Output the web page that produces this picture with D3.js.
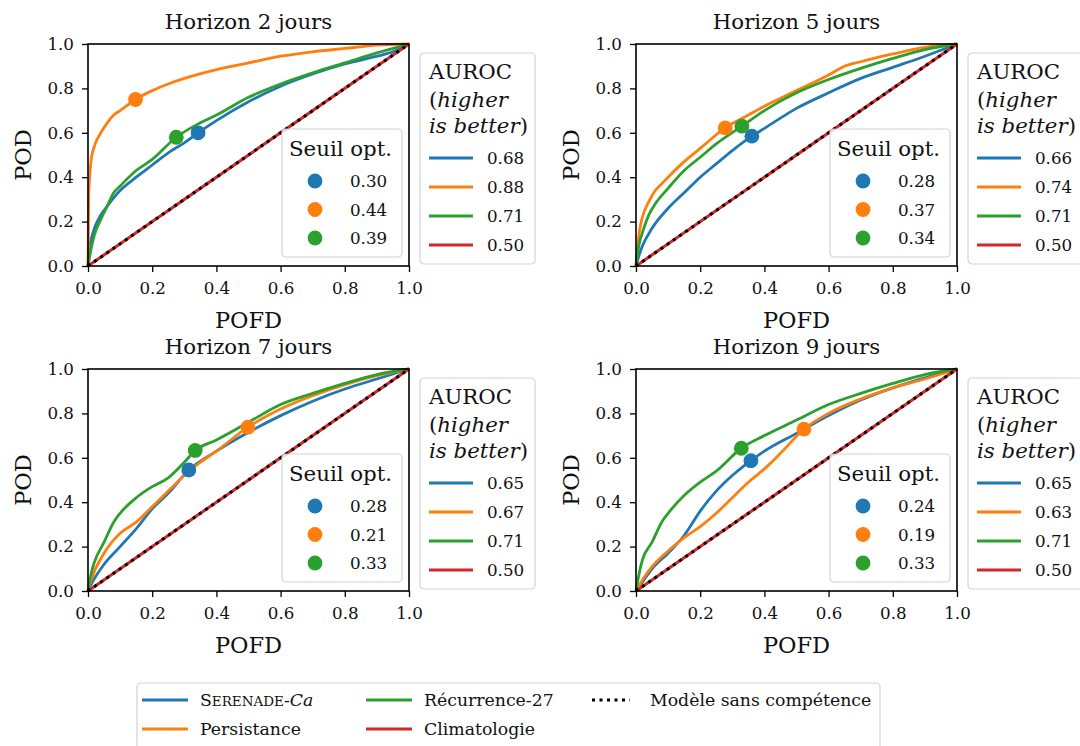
<!DOCTYPE html>
<html>
<head>
<meta charset="utf-8">
<script src="https://cdn.jsdelivr.net/npm/d3@7"></script>
<style>
  html, body { margin: 0; padding: 0; background: #fff; }
  svg { display: block; }
  text { font-family: "DejaVu Serif", "Liberation Serif", serif; fill: #111; }
</style>
</head>
<body>
<svg id="chart" width="1080" height="746"></svg>
<script>
// ---------------- DATA ----------------
const seriesNames = ["SERENADE-Ca", "Persistance", "Récurrence-27", "Climatologie"];
const colors = ["#1f77b4", "#ff7f0e", "#2ca02c", "#d62728"];
const titles = ["Horizon 2 jours", "Horizon 5 jours", "Horizon 7 jours", "Horizon 9 jours"];
const ticks = [0.0, 0.2, 0.4, 0.6, 0.8, 1.0];

// ROC curves: [POFD, POD]
const h2Serenade = [[0,0],[0.005,0.08],[0.01,0.12],[0.02,0.17],[0.04,0.23],[0.06,0.27],[0.1,0.34],[0.15,0.40],[0.2,0.455],[0.25,0.51],[0.3,0.555],[0.343,0.60],[0.4,0.655],[0.5,0.74],[0.6,0.81],[0.7,0.865],[0.8,0.91],[0.9,0.945],[0.95,0.965],[1,1]];
const h2Persistance = [[0,0],[0.002,0.30],[0.005,0.40],[0.01,0.48],[0.02,0.54],[0.04,0.60],[0.06,0.645],[0.08,0.68],[0.1,0.70],[0.148,0.75],[0.2,0.79],[0.25,0.82],[0.3,0.845],[0.4,0.885],[0.5,0.915],[0.6,0.945],[0.7,0.965],[0.8,0.98],[0.9,0.995],[1,1]];
const h2Recurrence = [[0,0],[0.01,0.08],[0.02,0.14],[0.04,0.21],[0.06,0.27],[0.08,0.33],[0.1,0.36],[0.15,0.43],[0.2,0.48],[0.275,0.58],[0.35,0.645],[0.4,0.68],[0.5,0.76],[0.6,0.82],[0.7,0.87],[0.8,0.915],[0.9,0.96],[1,1]];

const h5Serenade = [[0,0],[0.01,0.05],[0.02,0.09],[0.05,0.17],[0.1,0.26],[0.15,0.33],[0.2,0.40],[0.25,0.46],[0.3,0.52],[0.361,0.585],[0.4,0.62],[0.5,0.71],[0.6,0.78],[0.7,0.845],[0.8,0.895],[0.9,0.945],[1,1]];
const h5Persistance = [[0,0],[0.01,0.15],[0.02,0.22],[0.04,0.29],[0.06,0.34],[0.08,0.37],[0.1,0.40],[0.15,0.47],[0.2,0.53],[0.278,0.622],[0.35,0.68],[0.4,0.72],[0.5,0.79],[0.6,0.86],[0.65,0.90],[0.7,0.92],[0.8,0.955],[0.9,0.985],[1,1]];
const h5Recurrence = [[0,0],[0.01,0.10],[0.02,0.15],[0.04,0.23],[0.06,0.28],[0.1,0.35],[0.15,0.43],[0.2,0.49],[0.25,0.55],[0.33,0.63],[0.4,0.70],[0.5,0.78],[0.6,0.84],[0.7,0.89],[0.8,0.935],[0.9,0.975],[1,1]];

const h7Serenade = [[0,0],[0.01,0.03],[0.05,0.12],[0.1,0.20],[0.15,0.28],[0.2,0.37],[0.25,0.44],[0.314,0.545],[0.4,0.63],[0.5,0.715],[0.6,0.79],[0.7,0.855],[0.8,0.91],[0.9,0.955],[1,1]];
const h7Persistance = [[0,0],[0.01,0.05],[0.05,0.17],[0.1,0.26],[0.15,0.31],[0.2,0.38],[0.25,0.45],[0.3,0.52],[0.35,0.58],[0.4,0.63],[0.498,0.738],[0.6,0.82],[0.7,0.88],[0.8,0.93],[0.9,0.97],[1,1]];
const h7Recurrence = [[0,0],[0.01,0.08],[0.02,0.13],[0.05,0.22],[0.08,0.31],[0.1,0.35],[0.15,0.42],[0.2,0.47],[0.25,0.51],[0.3,0.58],[0.334,0.633],[0.4,0.68],[0.5,0.76],[0.6,0.84],[0.7,0.89],[0.8,0.935],[0.9,0.975],[1,1]];

const h9Serenade = [[0,0],[0.02,0.04],[0.05,0.10],[0.1,0.17],[0.15,0.25],[0.2,0.36],[0.25,0.45],[0.3,0.52],[0.358,0.587],[0.4,0.63],[0.5,0.71],[0.6,0.79],[0.7,0.86],[0.8,0.915],[0.9,0.96],[1,1]];
const h9Persistance = [[0,0],[0.02,0.05],[0.05,0.11],[0.1,0.18],[0.15,0.24],[0.2,0.29],[0.25,0.35],[0.3,0.42],[0.35,0.49],[0.4,0.55],[0.45,0.62],[0.523,0.729],[0.6,0.80],[0.7,0.865],[0.8,0.915],[0.9,0.955],[1,1]];
const h9Recurrence = [[0,0],[0.01,0.08],[0.02,0.14],[0.05,0.22],[0.08,0.31],[0.1,0.35],[0.15,0.43],[0.2,0.49],[0.25,0.54],[0.328,0.643],[0.4,0.70],[0.5,0.77],[0.6,0.84],[0.7,0.89],[0.8,0.935],[0.9,0.975],[1,1]];

const climatologie = [[0,0],[1,1]];

// optimal threshold points [POFD, POD] per series (SERENADE, Persistance, Récurrence)
const optH2 = [[0.343,0.60],[0.148,0.75],[0.275,0.58]];
const optH5 = [[0.361,0.585],[0.278,0.622],[0.33,0.63]];
const optH7 = [[0.314,0.545],[0.498,0.738],[0.334,0.633]];
const optH9 = [[0.358,0.587],[0.523,0.729],[0.328,0.643]];

const seuilH2 = ["0.30","0.44","0.39"];
const seuilH5 = ["0.28","0.37","0.34"];
const seuilH7 = ["0.28","0.21","0.33"];
const seuilH9 = ["0.24","0.19","0.33"];

const aurocH2 = ["0.68","0.88","0.71","0.50"];
const aurocH5 = ["0.66","0.74","0.71","0.50"];
const aurocH7 = ["0.65","0.67","0.71","0.50"];
const aurocH9 = ["0.65","0.63","0.71","0.50"];

// ---------------- DRAW ----------------
const panels = [
  {title: titles[0], curves: [h2Serenade, h2Persistance, h2Recurrence], opt: optH2, seuil: seuilH2, auroc: aurocH2},
  {title: titles[1], curves: [h5Serenade, h5Persistance, h5Recurrence], opt: optH5, seuil: seuilH5, auroc: aurocH5},
  {title: titles[2], curves: [h7Serenade, h7Persistance, h7Recurrence], opt: optH7, seuil: seuilH7, auroc: aurocH7},
  {title: titles[3], curves: [h9Serenade, h9Persistance, h9Recurrence], opt: optH9, seuil: seuilH9, auroc: aurocH9}
];

const FONT = "DejaVu Serif";
const svg = d3.select("#chart");
const colLeft = [88, 636];
const rowTop = [44, 369];
const W = 321, H = 222;
const tickFont = 16.7;
const bigFont = 21.3;
const labFont = 22.5;

panels.forEach((p, i) => {
  const left = colLeft[i % 2], top = rowTop[Math.floor(i / 2)];
  const g = svg.append("g").attr("transform", `translate(${left},${top})`);
  const x = d3.scaleLinear().domain([0, 1]).range([0, W]);
  const y = d3.scaleLinear().domain([0, 1]).range([H, 0]);
  const line = d3.line().x(d => x(d[0])).y(d => y(d[1])).curve(d3.curveMonotoneX);

  const clipId = "clip" + i;
  g.append("clipPath").attr("id", clipId).append("rect").attr("x", -2).attr("y", -2).attr("width", W + 4).attr("height", H + 4);
  const plot = g.append("g").attr("clip-path", `url(#${clipId})`);

  p.curves.forEach((c, k) => {
    plot.append("path").datum(c).attr("d", line)
      .attr("fill", "none").attr("stroke", colors[k]).attr("stroke-width", 2.8)
      .attr("stroke-linejoin", "round");
  });
  plot.append("path").datum(climatologie).attr("d", line)
    .attr("fill", "none").attr("stroke", colors[3]).attr("stroke-width", 3);
  plot.append("path").datum(climatologie).attr("d", line)
    .attr("fill", "none").attr("stroke", "#000").attr("stroke-width", 3)
    .attr("stroke-dasharray", "3,4.5");

  p.opt.forEach((o, k) => {
    plot.append("circle").attr("cx", x(o[0])).attr("cy", y(o[1])).attr("r", 7.4).attr("fill", colors[k]);
  });

  // axes
  const xAxis = g.append("g").attr("transform", `translate(0,${H})`)
    .call(d3.axisBottom(x).tickValues(ticks).tickFormat(d3.format(".1f")).tickSize(6).tickPadding(10));
  const yAxis = g.append("g")
    .call(d3.axisLeft(y).tickValues(ticks).tickFormat(d3.format(".1f")).tickSize(6).tickPadding(8));
  [xAxis, yAxis].forEach(a => {
    a.attr("font-family", FONT);
    a.select(".domain").remove();
    a.selectAll("line").attr("stroke", "#000").attr("stroke-width", 1.3);
    a.selectAll("text").attr("font-family", FONT).attr("font-size", tickFont).attr("fill", "#111");
  });
  g.append("rect").attr("width", W).attr("height", H).attr("fill", "none")
    .attr("stroke", "#000").attr("stroke-width", 1.6);

  g.append("text").attr("x", W / 2).attr("y", -15).attr("text-anchor", "middle")
    .attr("font-family", FONT).attr("font-size", bigFont).text(p.title);
  g.append("text").attr("x", W / 2).attr("y", H + 62).attr("text-anchor", "middle")
    .attr("font-family", FONT).attr("font-size", labFont).text("POFD");
  g.append("text").attr("transform", `translate(${-57},${H / 2}) rotate(-90)`).attr("text-anchor", "middle")
    .attr("font-family", FONT).attr("font-size", labFont).text("POD");

  // Seuil legend
  const sx = W - 127, sy = H - 137;
  const sl = g.append("g").attr("transform", `translate(${sx},${sy})`);
  sl.append("rect").attr("width", 120).attr("height", 128).attr("rx", 4)
    .attr("fill", "#fff").attr("fill-opacity", 0.8).attr("stroke", "#d3d3d3").attr("stroke-width", 1.2);
  sl.append("text").attr("x", 7).attr("y", 27).attr("font-family", FONT).attr("font-size", bigFont).text("Seuil opt.");
  p.seuil.forEach((s, k) => {
    sl.append("circle").attr("cx", 33).attr("cy", 52 + k * 28.5).attr("r", 7.4).attr("fill", colors[k]);
    sl.append("text").attr("x", 68).attr("y", 58 + k * 28.5).attr("font-family", FONT).attr("font-size", tickFont).text(s);
  });

  // AUROC legend
  const ax = W + 11, ay = 9;
  const al = g.append("g").attr("transform", `translate(${ax},${ay})`);
  al.append("rect").attr("width", 115).attr("height", 211).attr("rx", 4)
    .attr("fill", "#fff").attr("fill-opacity", 0.8).attr("stroke", "#d3d3d3").attr("stroke-width", 1.2);
  al.append("text").attr("x", 9).attr("y", 26).attr("font-family", FONT).attr("font-size", bigFont).text("AUROC");
  const t2 = al.append("text").attr("x", 9).attr("y", 54).attr("font-family", FONT).attr("font-size", bigFont);
  t2.append("tspan").text("(");
  t2.append("tspan").attr("font-style", "italic").text("higher");
  const t3 = al.append("text").attr("x", 9).attr("y", 80).attr("font-family", FONT).attr("font-size", bigFont);
  t3.append("tspan").attr("font-style", "italic").text("is better");
  t3.append("tspan").text(")");
  p.auroc.forEach((a, k) => {
    const ly = 105 + k * 29;
    al.append("line").attr("x1", 9).attr("x2", 53).attr("y1", ly).attr("y2", ly)
      .attr("stroke", colors[k]).attr("stroke-width", 2.8);
    al.append("text").attr("x", 67).attr("y", ly + 6).attr("font-family", FONT).attr("font-size", tickFont).text(a);
  });
});

// Bottom legend
const bl = svg.append("g").attr("transform", "translate(137,683)");
bl.append("rect").attr("width", 743).attr("height", 75).attr("rx", 4)
  .attr("fill", "#fff").attr("stroke", "#d3d3d3").attr("stroke-width", 1.2);
const legFont = 17.3;
const entries = [
  {k: 0, col: 0, row: 0},
  {k: 1, col: 0, row: 1},
  {k: 2, col: 1, row: 0},
  {k: 3, col: 1, row: 1}
];
const colX = [5, 229, 455];
const rowY = [17, 46];
entries.forEach(e => {
  const lx = colX[e.col], ly = rowY[e.row];
  bl.append("line").attr("x1", lx).attr("x2", lx + 46).attr("y1", ly).attr("y2", ly)
    .attr("stroke", colors[e.k]).attr("stroke-width", 2.8);
  const t = bl.append("text").attr("x", lx + 58).attr("y", ly + 6).attr("font-family", FONT).attr("font-size", legFont);
  if (e.k === 0) {
    t.append("tspan").text("S");
    t.append("tspan").attr("font-size", legFont * 0.78).text("ERENADE");
    t.append("tspan").text("-");
    t.append("tspan").attr("font-style", "italic").text("Ca");
  } else {
    t.text(seriesNames[e.k]);
  }
});
bl.append("line").attr("x1", colX[2]).attr("x2", colX[2] + 38).attr("y1", rowY[0]).attr("y2", rowY[0])
  .attr("stroke", "#000").attr("stroke-width", 2.8).attr("stroke-dasharray", "3,4.5");
bl.append("text").attr("x", colX[2] + 58).attr("y", rowY[0] + 6).attr("font-family", FONT).attr("font-size", legFont).text("Modèle sans compétence");
</script>
</body>
</html>
